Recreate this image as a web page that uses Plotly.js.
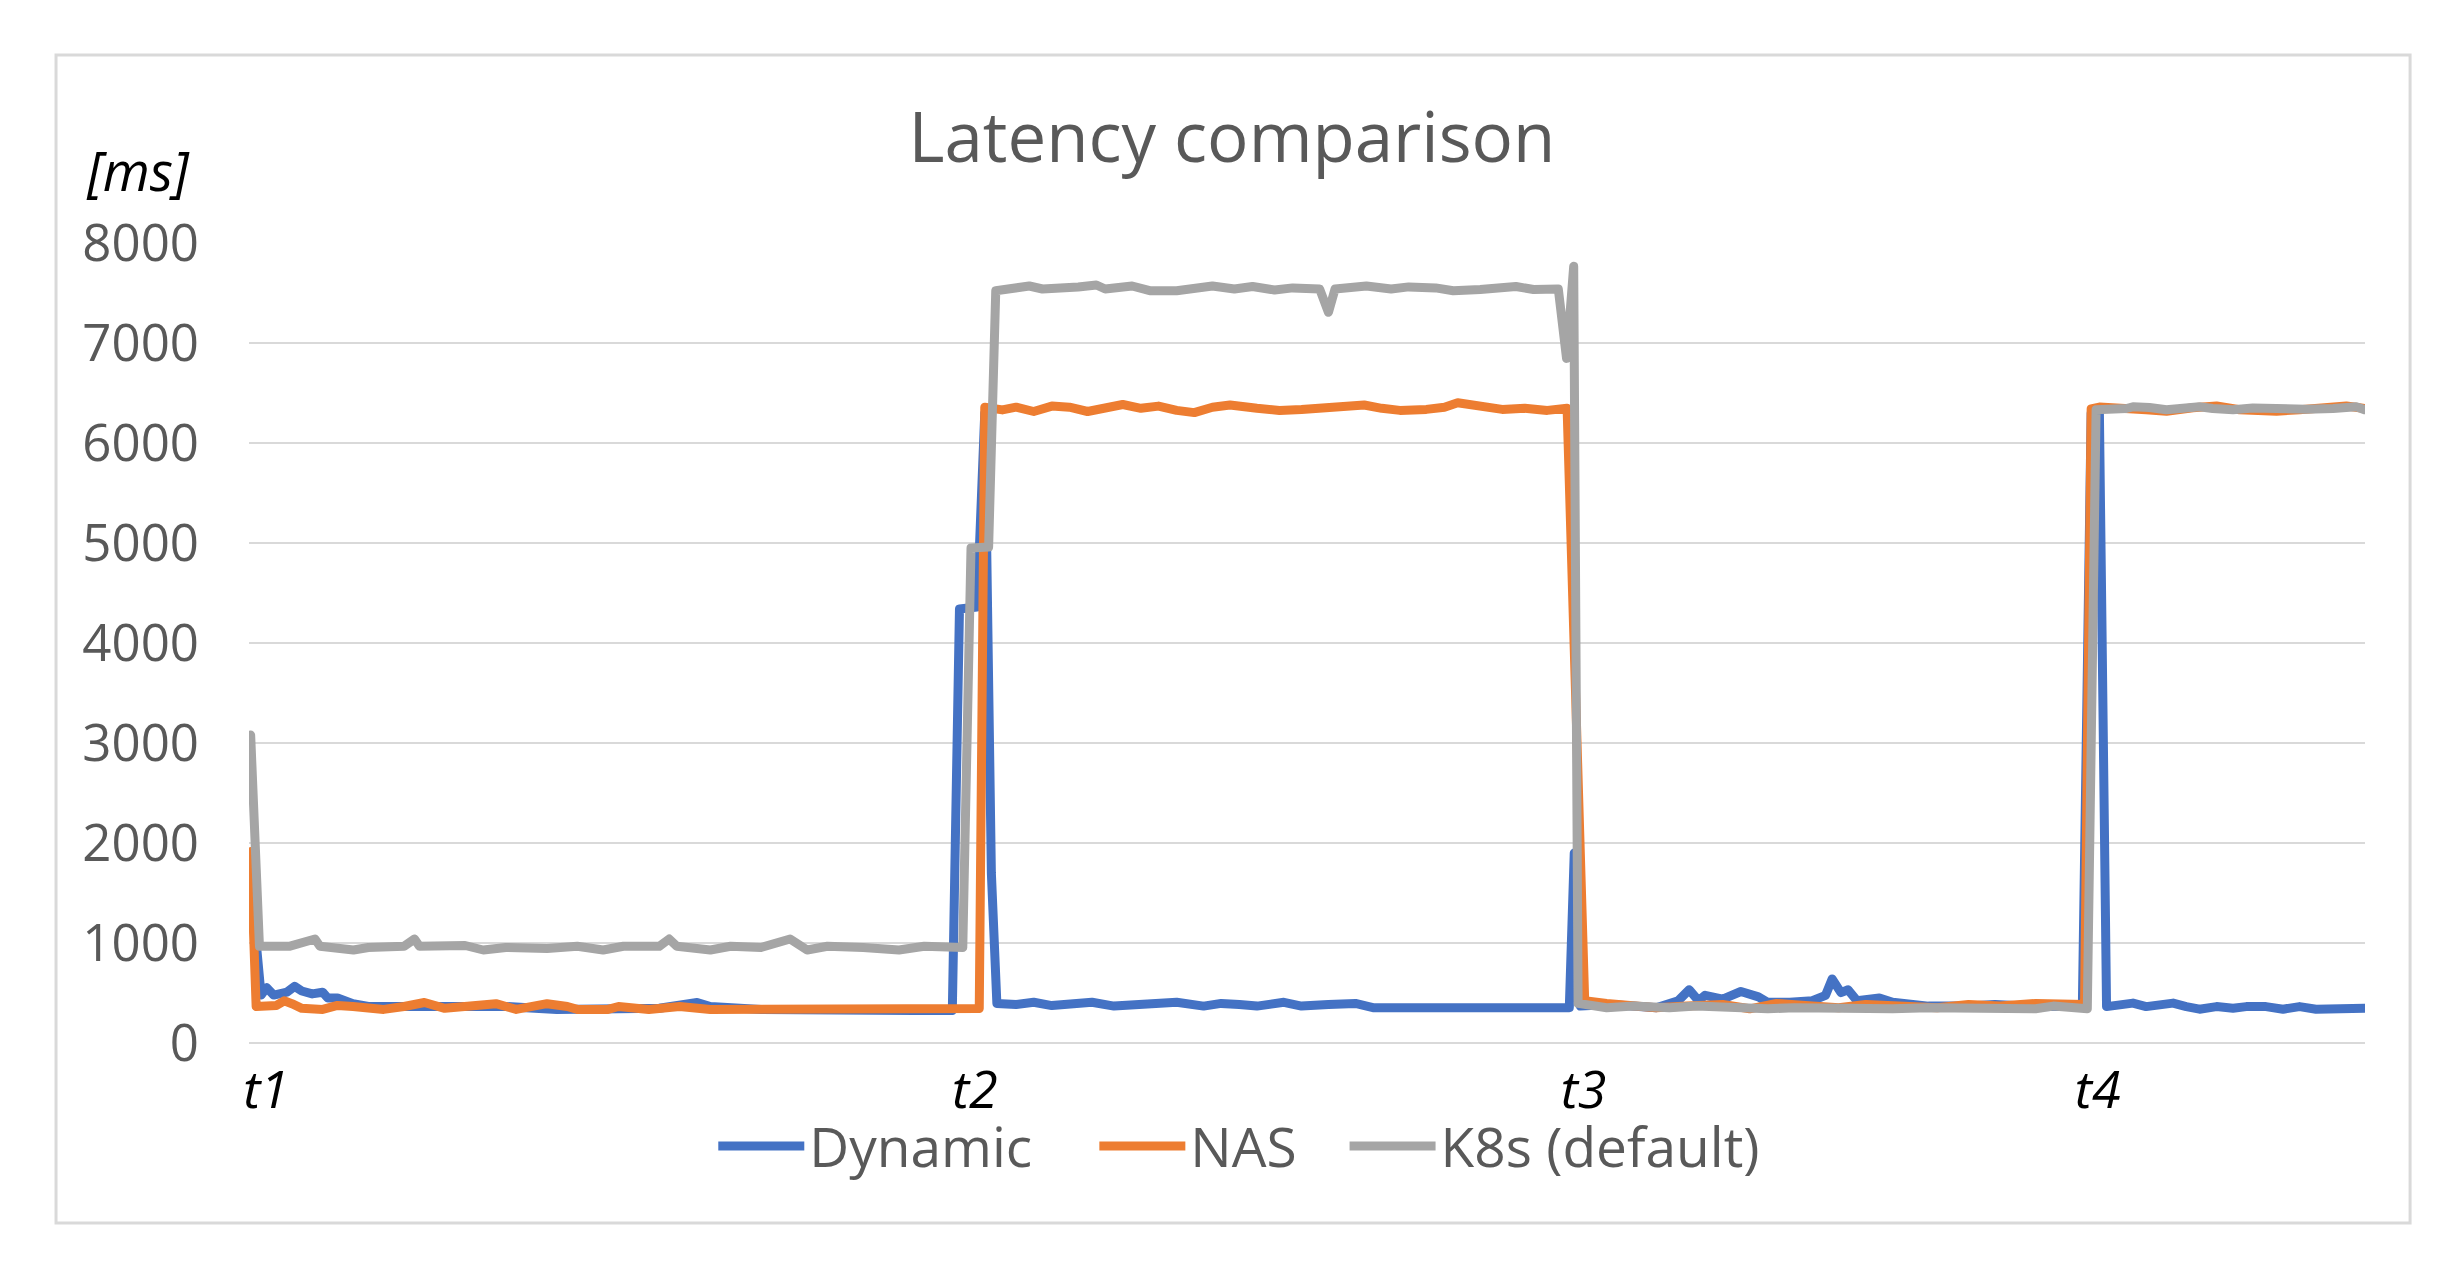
<!DOCTYPE html>
<html>
<head>
<meta charset="utf-8">
<script src="https://cdn.plot.ly/plotly-3.0.1.min.js"></script>
<style>
  body { margin: 0; background: #fff; }
  .scatterlayer path.js-line { stroke-linejoin: round; stroke-linecap: round; }
</style>
</head>
<body>
<div id="chart"></div>
<script>
// Series names and colours (Excel defaults)
var seriesNames = ["Dynamic", "NAS", "K8s (default)"];
var seriesColors = ["#4472C4", "#ED7D31", "#A5A5A5"];

// Phase markers on the time axis
var phaseTicks = [3.1, 132, 242.7, 336.2];
var phaseLabels = ["t1", "t2", "t3", "t4"];

// Y axis ticks
var latencyTicks = [0, 1000, 2000, 3000, 4000, 5000, 6000, 7000, 8000];

// Dynamic - sample time / latency [ms]
var dynX = [0.3, 2.2, 3.2, 4.5, 6.9, 8.3, 9.6, 11.5, 13.4, 14.3, 16.1, 18.9, 21.7, 28.2, 37.5, 46.7, 56.0, 65.3, 74.6, 81.5, 83.9, 93.1, 102.4, 111.7, 121.0, 127.9,
  129.2, 132.4, 133.8, 135.0, 136.0,
  139.5, 142.7, 146.0, 150.8, 153.3, 157.3, 160.6, 163.8, 168.7, 173.6, 176.8, 180.1, 183.3, 188.2, 191.4, 196.3, 201.2, 204.4, 207.7, 214.1, 218.2, 223.9, 230.4, 235.3, 240.1,
  241.0, 242.1,
  247.7, 251.8, 255.9, 259.9, 261.9, 263.6, 264.8, 268.0, 271.3, 274.5, 276.2, 280.2, 284.3, 286.7, 287.9, 289.5, 290.8, 292.4, 296.5, 298.9, 301.3, 305.4, 312.7, 317.5, 324.9, 332.2, 333.4,
  335.0, 336.5, 337.8,
  340.2, 342.6, 345.0, 347.5, 349.9, 352.3, 354.7, 357.8, 360.8, 363.2, 366.8, 369.9, 372.9, 375.9, 379.0, 382.0, 384.7];
var dynY = [1600, 479, 554, 479, 508, 566, 520, 491, 508, 451, 451, 393, 365, 365, 347, 365, 336, 336, 347, 405, 365, 336, 325, 336, 325, 325,
  4340, 4360, 6300, 1700, 396,
  385, 407, 374, 396, 407, 369, 385, 396, 407, 369, 396, 385, 369, 407, 369, 385, 396, 353, 353, 369, 353, 369, 353, 363, 353,
  1900, 369,
  385, 369, 353, 423, 532, 423, 477, 439, 515, 461, 407, 407, 423, 477, 640, 504, 532, 423, 450, 407, 385, 369, 369, 385, 363, 369, 369,
  6300, 6300, 364,
  390, 399, 364, 390, 399, 364, 338, 364, 348, 364, 364, 338, 364, 338, 338, 348, 348];

// NAS
var nasX = [0.3, 1.3, 5.0, 6.4, 7.8, 9.6, 13.4, 16.1, 18.9, 24.5, 28.2, 31.9, 35.6, 39.3, 44.9, 48.6, 54.2, 57.9, 59.7, 65.3, 67.2, 72.7, 78.3, 83.9, 93.1, 98.7, 102.4, 108.0, 111.7, 121.0, 126.5, 132.8,
  133.8, 137.0, 139.5, 142.7, 146.0, 149.2, 152.5, 156.5, 158.9, 162.2, 165.4, 168.7, 171.9, 175.2, 178.4, 183.3, 187.4, 191.4, 196.3, 199.5, 202.8, 206.0, 209.3, 214.1, 217.4, 219.8, 223.9, 227.9, 232.0, 236.1, 239.7,
  242.9, 246.9, 251.8, 255.9, 261.5, 268.0, 272.9, 277.8, 284.3, 289.1, 294.0, 300.5, 307.0, 312.7, 318.4, 324.9, 333.0, 333.8,
  335.0, 336.5, 345.0, 348.7, 353.5, 357.8, 362.0, 368.7, 372.9, 377.8, 381.4, 383.8, 384.7];
var nasY = [1914, 365, 376, 422, 393, 347, 336, 376, 365, 336, 365, 405, 347, 365, 393, 336, 393, 365, 336, 336, 365, 336, 365, 336, 336, 347, 336, 347, 336, 336, 336, 345,
  6358, 6331, 6358, 6315, 6369, 6358, 6315, 6358, 6385, 6347, 6369, 6326, 6304, 6358, 6380, 6347, 6326, 6336, 6347, 6358, 6380, 6347, 6326, 6336, 6358, 6402, 6369, 6336, 6347, 6326, 6347,
  423, 396, 369, 353, 369, 385, 342, 396, 369, 353, 385, 369, 353, 385, 369, 396, 385, 385,
  6340, 6359, 6333, 6318, 6352, 6370, 6333, 6318, 6333, 6360, 6370, 6352, 6345];

// K8s (default)
var k8sX = [0.3, 1.9, 7.3, 12.0, 12.9, 17.1, 19.0, 21.7, 28.2, 30.1, 31.0, 39.3, 42.6, 46.7, 50.0, 54.2, 59.7, 64.4, 68.1, 74.6, 76.4, 77.8, 83.9, 87.6, 93.1, 98.4, 101.5, 105.2, 111.7, 118.2, 122.8, 128.4, 129.8,
  131.3, 134.5,
  135.8, 139.5, 141.9, 144.3, 149.2, 150.8, 154.1, 155.7, 160.6, 163.8, 168.7, 173.6, 175.2, 179.2, 182.5, 186.5, 189.8, 194.7, 196.3, 197.5, 203.2, 207.7, 210.9, 215.8, 219.0, 223.9, 230.4, 233.6, 238.1,
  239.6, 240.9,
  241.7, 246.9, 251.8, 258.3, 263.2, 269.7, 276.2, 281.0, 287.5, 292.4, 298.9, 305.4, 311.9, 318.4, 324.9, 328.1, 332.2, 334.3,
  335.9, 338.4, 341.4, 342.6, 344.4, 345.6, 348.7, 351.1, 353.5, 354.7, 357.1, 360.8, 364.4, 366.8, 369.9, 371.7, 374.1, 379.0, 381.4, 383.2, 384.7];
var k8sY = [3080, 967, 967, 1040, 967, 945, 930, 955, 967, 1040, 967, 975, 930, 955, 945, 945, 967, 930, 967, 967, 1040, 967, 930, 967, 955, 1040, 930, 967, 955, 930, 967, 945, 955,
  4950, 4960,
  7523, 7551, 7570, 7540, 7540, 7561, 7580, 7540, 7570, 7523, 7523, 7551, 7570, 7540, 7565, 7530, 7551, 7540, 7307, 7540, 7570, 7540, 7561, 7551, 7523, 7535, 7565, 7535, 7540,
  6846, 7767,
  396, 353, 369, 353, 369, 353, 342, 353, 342, 353, 342, 353, 342, 353, 342, 369, 353, 342,
  6333, 6333, 6345, 6362, 6345, 6355, 6333, 6350, 6355, 6362, 6345, 6333, 6350, 6345, 6338, 6355, 6338, 6345, 6355, 6362, 6333];

var xs = [dynX, nasX, k8sX];
var ys = [dynY, nasY, k8sY];

// trailing no-break spaces give the gap between legend entries
var legendPad = ["\u00A0\u00A0\u00A0\u00A0", "\u00A0\u00A0\u00A0", ""];

var data = seriesNames.map(function (name, i) {
  return {
    x: xs[i],
    y: ys[i],
    name: name + legendPad[i],
    type: "scatter",
    mode: "lines",
    line: {color: seriesColors[i], width: 9}
  };
});

var font = "'Open Sans', 'Noto Sans', sans-serif";

var layout = {
  width: 2459,
  height: 1277,
  margin: {l: 249, r: 94, t: 243, b: 234},
  paper_bgcolor: "#ffffff",
  plot_bgcolor: "#ffffff",
  font: {family: font, color: "#595959"},
  title: {
    text: "Latency comparison",
    font: {size: 69, color: "#595959"},
    xref: "container", x: 0.501,
    yref: "container", y: 0.892, yanchor: "middle"
  },
  xaxis: {
    range: [0, 384.8],
    showgrid: false,
    zeroline: false,
    showline: false,
    tickmode: "array",
    tickvals: phaseTicks,
    ticktext: phaseLabels,
    ticks: "",
    ticklabelstandoff: 12,
    tickfont: {size: 52, color: "#000000", style: "italic"}
  },
  yaxis: {
    range: [0, 8000],
    tickmode: "array",
    tickvals: latencyTicks,
    showgrid: true,
    gridcolor: "#D9D9D9",
    gridwidth: 2,
    zeroline: true,
    zerolinecolor: "#D9D9D9",
    zerolinewidth: 2,
    showline: false,
    ticks: "",
    ticklabelstandoff: 49,
    tickfont: {size: 51, color: "#595959"}
  },
  showlegend: true,
  legend: {
    orientation: "h",
    x: 0.468, xanchor: "center",
    y: -0.129, yanchor: "middle",
    font: {size: 55, color: "#595959"},
    itemwidth: 86,
    bgcolor: "rgba(0,0,0,0)"
  },
  annotations: [{
    text: "<i>[ms]</i>",
    xref: "paper", yref: "paper",
    x: -0.0525, y: 1.091,
    xanchor: "center", yanchor: "middle",
    showarrow: false,
    font: {size: 54, color: "#000000"}
  }],
  shapes: [{
    type: "rect",
    xref: "paper", yref: "paper",
    x0: -0.0912, x1: 1.0213, y0: -0.225, y1: 1.235,
    line: {color: "#D9D9D9", width: 3},
    fillcolor: "rgba(0,0,0,0)",
    layer: "below"
  }],
  hovermode: false
};

Plotly.newPlot("chart", data, layout, {displayModeBar: false, staticPlot: true});
</script>
</body>
</html>
